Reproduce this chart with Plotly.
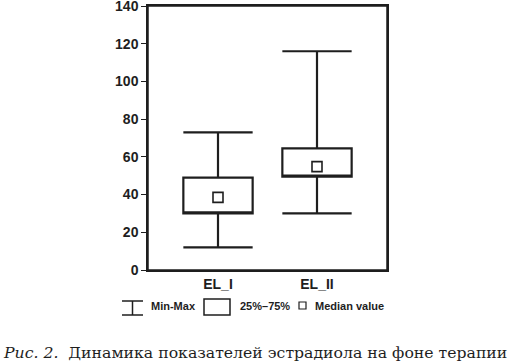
import plotly.graph_objects as go

categories = ["EL_I", "EL_II"]
q1_values = [30, 49.5]
q3_values = [49, 64.5]
median_values = [38.5, 54.8]
min_values = [12, 30]
max_values = [73, 116]
y_ticks = [0, 20, 40, 60, 80, 100, 120, 140]

INK = "#1e1e1e"
W, H = 511, 363
L, R, T, B = 148, 387, 6, 270


def px(x):
    return (x - L) / (R - L)


def py(y):
    return (B - y) / (B - T)


fig = go.Figure()
fig.add_trace(go.Box(
    x=categories, q1=q1_values, median=q1_values, q3=q3_values,
    lowerfence=min_values, upperfence=max_values,
    width=0.7, whiskerwidth=1, boxpoints=False,
    fillcolor="white", line=dict(color=INK, width=2.2),
    showlegend=False, hoverinfo="skip"))
fig.add_trace(go.Scatter(
    x=categories, y=median_values, mode="markers",
    marker=dict(symbol="square-open", size=10, color=INK, line=dict(width=1.6, color=INK)),
    showlegend=False, hoverinfo="skip"))

fig.update_layout(
    width=W, height=H,
    margin=dict(l=L, r=W - R, t=T, b=H - B),
    plot_bgcolor="white", paper_bgcolor="white",
    font=dict(family="Liberation Sans, Arial", color=INK),
    xaxis=dict(range=[-0.707, 1.707], showline=True, linecolor=INK, linewidth=1.5,
               mirror=True, ticks="", showgrid=False, automargin=False,
               tickfont=dict(size=14, family="Liberation Sans, Arial", weight="bold")),
    yaxis=dict(range=[0, 140], tickvals=y_ticks, showline=True, linecolor=INK, linewidth=1.5,
               mirror=True, ticks="outside", ticklen=5, tickcolor=INK, showgrid=False,
               zeroline=False, automargin=False, ticklabeloverflow="allow",
               tickfont=dict(size=14, family="Liberation Sans, Arial", weight="bold")),
)

shapes = []
lw = dict(color=INK, width=1.5)
# plot frame
shapes.append(dict(type="rect", xref="paper", yref="paper", x0=0, x1=1, y0=0, y1=1, line=lw, layer="above"))
# Min-Max icon
shapes.append(dict(type="line", xref="paper", yref="paper", x0=px(122), x1=px(143), y0=py(301), y1=py(301), line=lw))
shapes.append(dict(type="line", xref="paper", yref="paper", x0=px(122), x1=px(143), y0=py(315), y1=py(315), line=lw))
shapes.append(dict(type="line", xref="paper", yref="paper", x0=px(132.5), x1=px(132.5), y0=py(301), y1=py(315), line=lw))
# box icon
shapes.append(dict(type="rect", xref="paper", yref="paper", x0=px(204), x1=px(230), y0=py(299), y1=py(315), line=lw))
# median icon
shapes.append(dict(type="rect", xref="paper", yref="paper", x0=px(299), x1=px(306), y0=py(302), y1=py(309), line=dict(color=INK, width=1.2)))
fig.update_layout(shapes=shapes)

legend_font = dict(size=11, family="Liberation Sans, Arial", color=INK, weight="bold")
for text, x in [("Min-Max", 149), ("25%–75%", 238), ("Median value", 313)]:
    fig.add_annotation(text=text, xref="paper", yref="paper", x=px(x), y=py(306),
                       xanchor="left", yanchor="middle", showarrow=False, font=legend_font)

fig.add_annotation(
    text="<i>Рис. 2.</i>  Динамика показателей эстрадиола на фоне терапии",
    xref="paper", yref="paper", x=px(255), y=py(352), xanchor="center", yanchor="middle",
    showarrow=False, font=dict(size=15.7, family="DejaVu Serif", color=INK))

fig.write_html("out.html", config={"displayModeBar": False},
               post_script="document.body.style.margin='0';document.body.style.overflow='hidden';")
